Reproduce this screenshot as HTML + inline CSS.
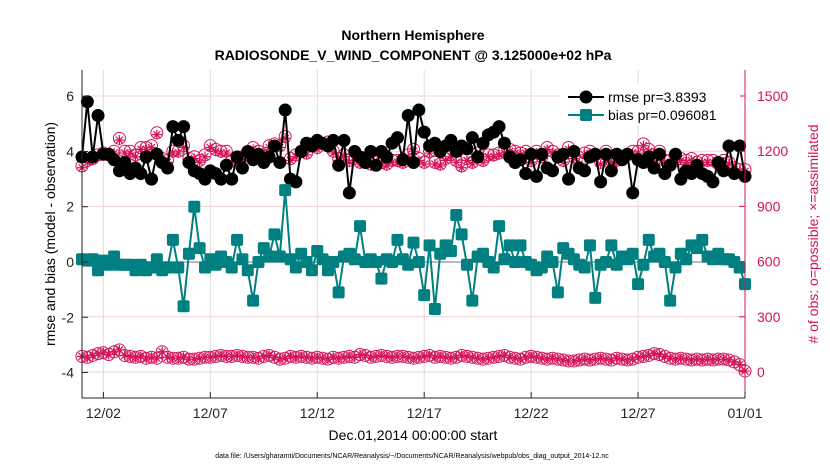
<!DOCTYPE html>
<html><head><meta charset="utf-8"><style>
body{margin:0;background:#fff;font-family:"Liberation Sans",Arial,sans-serif}
svg text{font-family:"Liberation Sans",Arial,sans-serif}
</style></head><body>
<svg id="chart" width="830" height="470" xmlns="http://www.w3.org/2000/svg">
<rect width="830" height="470" fill="#fff"/>
<text x="413" y="40" font-size="14" font-weight="bold" text-anchor="middle">Northern Hemisphere</text>
<text x="413" y="60" font-size="14" font-weight="bold" text-anchor="middle">RADIOSONDE_V_WIND_COMPONENT @ 3.125000e+02 hPa</text>
<g id="grid"></g>
<g id="marks"></g>
<g id="axes"></g>
<text x="413" y="440" font-size="14" text-anchor="middle">Dec.01,2014 00:00:00 start</text>
<text transform="translate(55,234) rotate(-90)" font-size="14" text-anchor="middle">rmse and bias (model - observation)</text>
<text transform="translate(818,234) rotate(-90)" font-size="14" text-anchor="middle" fill="#d4145a"># of obs: o=possible; ×=assimilated</text>
<text x="412" y="458" font-size="7" text-anchor="middle">data file: /Users/gharamti/Documents/NCAR/Reanalysis/~/Documents/NCAR/Reanalysis/webpub/obs_diag_output_2014-12.nc</text>
<g id="legend">
<rect x="560" y="84" width="180" height="42" fill="#fff"/>
<line x1="568" y1="97" x2="604" y2="97" stroke="#000" stroke-width="2"/>
<circle cx="586" cy="97" r="6.5" fill="#000"/>
<text x="608" y="102" font-size="14">rmse pr=3.8393</text>
<line x1="568" y1="115" x2="604" y2="115" stroke="#008080" stroke-width="2"/>
<rect x="580" y="109" width="12" height="12" rx="2" fill="#008080"/>
<text x="608" y="120" font-size="14">bias pr=0.096081</text>
</g>
</svg>
<script>
const xTickLabels=["12/02","12/07","12/12","12/17","12/22","12/27","01/01"];
const xTickDays=[1,6,11,16,21,26,31];
const leftTicks=[-4,-2,0,2,4,6];
const rightTicks=[0,300,600,900,1200,1500];
const rmse=[3.8,5.8,3.8,5.3, 3.9,3.9,3.7,3.3, 3.6,3.2,3.4,3.2, 3.8,3.0,3.9,3.6, 3.4,4.9,4.4,4.9, 3.6,3.3,3.2,3.0, 3.3,3.2,3.0,3.5, 3.0,3.8,3.4,4.0, 3.7,3.9,3.6,3.8, 4.2,3.6,5.5,3.0, 2.9,4.0,4.3,4.2, 4.4,4.3,4.2,4.4, 3.5,4.4,2.5,4.0, 3.8,3.6,4.0,3.5, 4.0,3.8,4.3,4.5, 3.7,5.3,3.6,5.5, 4.7,4.2,4.3,4.0, 4.2,4.4,4.0,4.2, 4.1,4.5,3.8,4.3, 4.6,4.7,4.9,4.3, 3.8,3.6,3.7,3.2, 3.9,3.1,3.9,3.4, 3.3,3.8,3.9,3.0, 4.0,3.4,3.3,3.8, 3.9,2.9,3.9,3.3, 3.9,3.7,3.9,2.5, 3.7,3.6,3.8,3.4, 3.9,3.2,3.5,3.9, 3.0,3.3,3.2,3.5, 3.2,3.1,2.9,3.6, 3.3,4.2,3.2,4.2, 3.1];
const bias=[0.1,0.05,0.1,-0.3, 0.05,-0.1,0.2,-0.1, -0.1,-0.1,-0.3,-0.1, -0.3,-0.2,0.1,-0.3, -0.2,0.8,-0.2,-1.6, 0.3,2.0,0.5,-0.2, 0.1,-0.1,0.2,0.0, -0.2,0.8,0.1,-0.3, -1.4,0.0,0.5,0.2, 1.0,0.2,2.6,0.1, -0.2,0.3,0.0,-0.3, 0.4,0.1,-0.3,0.0, -1.1,0.2,0.3,0.1, 1.3,0.0,0.1,0.0, -0.6,0.1,0.0,0.8, 0.1,-0.1,0.7,0.0, -1.2,0.6,-1.7,0.3, 0.6,0.4,1.7,1.0, -0.1,-1.4,0.2,0.3, 0.0,-0.2,1.3,0.1, 0.6,0.0,0.6,0.0, -0.1,-0.3,-0.2,0.2, 0.0,-1.1,0.5,0.3, 0.1,-0.1,-0.2,0.6, -1.3,-0.1,0.0,0.6, -0.1,0.2,0.1,0.3, -0.8,-0.1,0.8,0.2, 0.3,0.0,-1.4,-0.2, 0.3,0.1,0.6,0.5, 0.8,0.2,0.1,0.3, 0.1,0.1,0.0,-0.2, -0.8];
const nPossibleUpper=[1120,1150,1160,1180, 1190,1180,1200,1270, 1200,1200,1180,1220, 1220,1230,1300,1160, 1150,1200,1200,1230, 1160,1170,1150,1180, 1230,1210,1200,1200, 1150,1140,1170,1180, 1220,1200,1180,1230, 1240,1230,1280,1160, 1180,1200,1190,1240, 1220,1240,1250,1200, 1160,1180,1150,1160, 1140,1150,1130,1140, 1140,1130,1150,1150, 1140,1180,1210,1160, 1140,1200,1140,1130, 1160,1180,1150,1120, 1160,1140,1190,1150, 1180,1180,1190,1200, 1210,1200,1190,1200, 1150,1200,1170,1220, 1200,1180,1150,1220, 1170,1140,1190,1200, 1180,1140,1200,1150, 1150,1160,1180,1200, 1200,1240,1210,1180, 1200,1150,1150,1150, 1160,1150,1160,1140, 1150,1150,1150,1130, 1150,1140,1110,1100, 1100];
const nAssimUpper=[1110,1140,1150,1170, 1180,1170,1190,1260, 1190,1190,1170,1210, 1210,1220,1290,1150, 1140,1190,1190,1220, 1150,1160,1140,1170, 1220,1200,1190,1190, 1140,1130,1160,1170, 1210,1190,1170,1220, 1230,1220,1270,1150, 1170,1190,1180,1230, 1210,1230,1240,1190, 1150,1170,1140,1150, 1130,1140,1120,1130, 1130,1120,1140,1140, 1130,1170,1200,1150, 1130,1190,1130,1120, 1150,1170,1140,1110, 1150,1130,1180,1140, 1170,1170,1180,1190, 1200,1190,1180,1190, 1140,1190,1160,1210, 1190,1170,1140,1210, 1160,1130,1180,1190, 1170,1130,1190,1140, 1140,1150,1170,1190, 1190,1230,1200,1170, 1190,1140,1140,1140, 1150,1140,1150,1130, 1140,1140,1140,1120, 1140,1130,1100,1090, 1090];
const nPossibleLower=[85,80,90,100, 105,95,110,120, 90,85,80,85, 75,80,75,110, 80,75,75,80, 70,70,75,80, 80,85,90,85, 85,90,85,80, 80,75,85,90, 80,70,75,85, 80,85,80,75, 80,75,70,80, 75,80,85,80, 95,90,80,85, 90,85,80,85, 85,80,75,80, 85,90,80,85, 80,75,80,90, 85,80,75,70, 75,80,85,90, 80,75,70,80, 85,80,75,70, 75,70,65,60, 60,65,70,65, 70,75,70,65, 75,70,65,70, 80,85,90,100, 95,85,75,70, 75,70,65,70, 65,70,65,70, 70,65,55,40, 5];
const nAssimLower=nPossibleLower.map(v=>v);

const L=82,R=745,T=70,B=398;
const NS="http://www.w3.org/2000/svg";
const xs=d=>L+(R-L)*d/31;
const yl=v=>262-v*27.63;
const yr=n=>372-n*0.184;
const tOf=i=>i*0.25;
function mk(tag,attrs,parent){const e=document.createElementNS(NS,tag);for(const k in attrs)e.setAttribute(k,attrs[k]);parent.appendChild(e);return e;}
const grid=document.getElementById('grid'),marks=document.getElementById('marks'),axes=document.getElementById('axes');
rightTicks.forEach(n=>{const g=mk('line',{x1:L,x2:R,y1:yr(n),y2:yr(n),stroke:'#f0d0dc','stroke-width':1},grid);

});
xTickDays.forEach(d=>{const g=mk('line',{x1:xs(d),x2:xs(d),y1:T,y2:B,stroke:'#dcdcdc','stroke-width':1},grid);

});
const zl=mk('line',{x1:L,x2:R,y1:yl(0),y2:yl(0),stroke:'#bbb','stroke-width':2},grid);


function poly(vals,yf,color){return vals.map((v,i)=>xs(tOf(i)).toFixed(1)+','+yf(v).toFixed(1)).join(' ');}
// counts
nPossibleUpper.concat(nPossibleLower).forEach((n,k)=>{const i=k%nPossibleUpper.length;const c=mk('circle',{cx:xs(tOf(i)),cy:yr(n),r:6,fill:'none',stroke:'#d4145a','stroke-width':1},marks);

});
nAssimUpper.concat(nAssimLower).forEach((n,k)=>{const i=k%nAssimUpper.length;const x=xs(tOf(i)),y=yr(n);
const p=mk('path',{d:`M${x-5},${y}H${x+5}M${x},${y-5}V${y+5}M${x-3.5},${y-3.5}L${x+3.5},${y+3.5}M${x-3.5},${y+3.5}L${x+3.5},${y-3.5}`,stroke:'#d4145a','stroke-width':1.2,fill:'none'},marks);

});
// rmse
const rl=mk('polyline',{points:poly(rmse,yl),fill:'none',stroke:'#000','stroke-width':2},marks);


rmse.forEach((v,i)=>{const c=mk('circle',{cx:xs(tOf(i)),cy:yl(v),r:6.5,fill:'#000'},marks);

});
// bias
const bl=mk('polyline',{points:poly(bias,yl),fill:'none',stroke:'#008080','stroke-width':2},marks);


bias.forEach((v,i)=>{const r=mk('rect',{x:xs(tOf(i))-6,y:yl(v)-6,width:12,height:12,rx:2,fill:'#008080'},marks);

});
// axes
const box=mk('path',{d:`M${L},${T}V${B}H${R}`,stroke:'#262626','stroke-width':1,fill:'none'},axes);


const ra=mk('line',{x1:R,x2:R,y1:T,y2:B,stroke:'#d4145a','stroke-width':1},axes);


leftTicks.forEach(v=>{mk('line',{x1:L,x2:L+6,y1:yl(v),y2:yl(v),stroke:'#262626'},axes);
const t=mk('text',{x:L-8,y:yl(v)+5,'font-size':14,'text-anchor':'end',fill:'#262626'},axes);t.textContent=v;

});
rightTicks.forEach(n=>{mk('line',{x1:R-6,x2:R,y1:yr(n),y2:yr(n),stroke:'#d4145a'},axes);
const t=mk('text',{x:R+12,y:yr(n)+5,'font-size':14,fill:'#d4145a'},axes);t.textContent=n;

});
xTickDays.forEach((d,k)=>{mk('line',{x1:xs(d),x2:xs(d),y1:B,y2:B-6,stroke:'#262626'},axes);
const t=mk('text',{x:xs(d),y:B+20,'font-size':14,'text-anchor':'middle',fill:'#262626'},axes);t.textContent=xTickLabels[k];

});
</script>
</body></html>
